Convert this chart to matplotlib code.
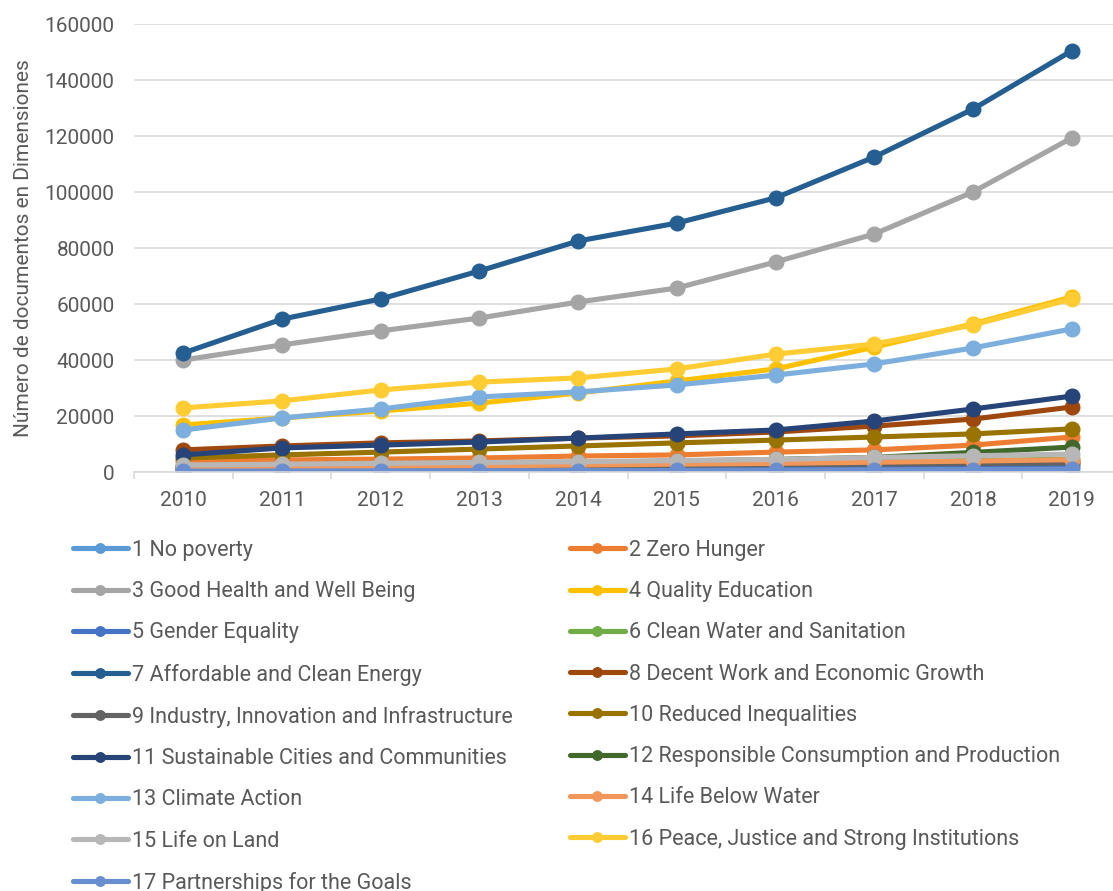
import numpy as np
import matplotlib
matplotlib.use("Agg")
import matplotlib.pyplot as plt

plt.rcParams['font.family'] = ['Roboto', 'DejaVu Sans']

years = ['2010', '2011', '2012', '2013', '2014', '2015', '2016', '2017', '2018', '2019']

labels = [
    '1 No poverty',
    '2 Zero Hunger',
    '3 Good Health and Well Being',
    '4 Quality Education',
    '5 Gender Equality',
    '6 Clean Water and Sanitation',
    '7 Affordable and Clean Energy',
    '8 Decent Work and Economic Growth',
    '9 Industry, Innovation and Infrastructure',
    '10 Reduced Inequalities',
    '11 Sustainable Cities and Communities',
    '12 Responsible Consumption and Production',
    '13 Climate Action',
    '14 Life Below Water',
    '15 Life on Land',
    '16 Peace, Justice and Strong Institutions',
    '17 Partnerships for the Goals',
]

colors = ['#5B9BD5', '#ED7D31', '#A5A5A5', '#FFC000', '#4472C4', '#70AD47',
          '#255E91', '#9E480E', '#636363', '#997300', '#264478', '#43682B',
          '#7CAFDD', '#F1975A', '#B7B7B7', '#FFCD33', '#698ED0']

sdg1 = [1200, 1400, 1600, 1800, 2000, 2200, 2500, 2800, 3100, 3500]
sdg2 = [3900, 4300, 4600, 5000, 5700, 6100, 7100, 7900, 9600, 12500]
sdg3 = [40000, 45400, 50400, 55000, 60700, 65700, 75000, 85000, 100000, 119300]
sdg4 = [16800, 19300, 21800, 24600, 28200, 32500, 36800, 44600, 52900, 62500]
sdg5 = [700, 800, 900, 1000, 1100, 1300, 1500, 1700, 1900, 2200]
sdg6 = [1800, 2000, 2200, 2400, 2700, 3000, 3300, 3700, 4100, 4600]
sdg7 = [42500, 54600, 61800, 71800, 82500, 88900, 97900, 112500, 129600, 150400]
sdg8 = [7900, 9300, 10400, 11100, 12100, 12900, 14300, 16400, 18900, 23200]
sdg9 = [1500, 1700, 1800, 2000, 2200, 2400, 2600, 2800, 3000, 3200]
sdg10 = [5000, 6100, 7100, 8200, 9300, 10400, 11400, 12500, 13600, 15400]
sdg11 = [6100, 8600, 9600, 10700, 12100, 13600, 15000, 18200, 22500, 27100]
sdg12 = [2200, 2500, 2800, 3100, 3500, 3900, 4500, 5200, 7000, 8900]
sdg13 = [15000, 19300, 22500, 26800, 28600, 31100, 34600, 38600, 44300, 51100]
sdg14 = [1600, 1800, 2000, 2200, 2500, 2800, 3100, 3500, 3900, 4400]
sdg15 = [2500, 2800, 3100, 3400, 3700, 4100, 4500, 5200, 5800, 6400]
sdg16 = [22900, 25400, 29300, 32100, 33600, 36800, 42100, 45700, 52500, 61800]
sdg17 = [300, 350, 400, 450, 500, 550, 650, 750, 850, 1000]

series = [sdg1, sdg2, sdg3, sdg4, sdg5, sdg6, sdg7, sdg8, sdg9, sdg10,
          sdg11, sdg12, sdg13, sdg14, sdg15, sdg16, sdg17]

text_color = '#595959'
grid_color = '#D9D9D9'

fig = plt.figure(figsize=(11.13, 8.91), dpi=100)
ax = fig.add_axes([134 / 1113, 1 - 472 / 891, 987 / 1113, 448 / 891])

x = np.arange(len(years))
handles = []
for vals, lab, col in zip(series, labels, colors):
    h, = ax.plot(x, vals, color=col, lw=3.7, marker='o', ms=10.5, label=lab,
                 solid_capstyle='round')
    handles.append(h)

ax.set_xlim(-0.5, len(years) - 0.5)
ax.set_ylim(0, 160000)
ax.set_yticks(np.arange(0, 160001, 20000))
ax.set_xticks(x)
ax.set_xticklabels(years)
ax.set_xticks(np.arange(-0.5, len(years), 1), minor=True)

ax.grid(axis='y', color=grid_color, lw=1.2)
ax.set_axisbelow(True)
for s in ['top', 'right', 'left']:
    ax.spines[s].set_visible(False)
ax.spines['bottom'].set_color(grid_color)
ax.spines['bottom'].set_linewidth(1.2)

ax.tick_params(axis='y', length=0, pad=14, labelsize=15, labelcolor=text_color)
ax.tick_params(axis='x', which='major', length=0, pad=14, labelsize=15,
               labelcolor=text_color)
ax.tick_params(axis='x', which='minor', length=5, width=1.2, color=grid_color)

ax.set_ylabel('Número de documentos en Dimensiones', fontsize=15,
              color=text_color, labelpad=8)

leg_kw = dict(frameon=False, fontsize=15.5, labelcolor=text_color, loc='upper left',
              borderpad=0, borderaxespad=0, handlelength=2.55, handletextpad=0.2,
              labelspacing=0.94, markerscale=0.65)
left = handles[0::2]
right = handles[1::2]
leg1 = fig.legend(handles=left, bbox_to_anchor=(73 / 1113, 1 - 540 / 891), **leg_kw)
leg2 = fig.legend(handles=right, bbox_to_anchor=(570 / 1113, 1 - 540 / 891), **leg_kw)

fig.savefig('out.png', dpi=100)
